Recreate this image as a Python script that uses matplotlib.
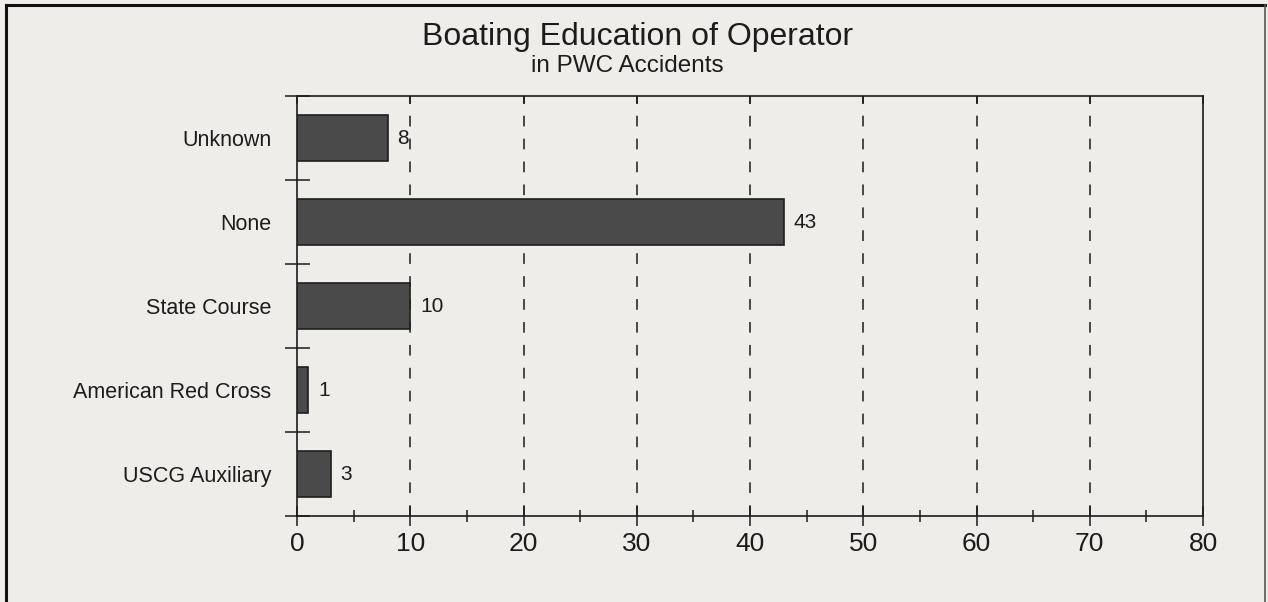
import matplotlib
matplotlib.use("Agg")
import matplotlib.pyplot as plt
from matplotlib.ticker import MultipleLocator, FixedLocator, NullFormatter
from matplotlib.lines import Line2D

categories = ["Unknown", "None", "State Course", "American Red Cross", "USCG Auxiliary"]
values = [8, 43, 10, 1, 3]
x_ticks = [0, 10, 20, 30, 40, 50, 60, 70, 80]
title = "Boating Education of Operator"
subtitle = "in PWC Accidents"

plt.rcParams['font.family'] = ['Liberation Sans', 'DejaVu Sans']
bg = "#eeede9"
ink = "#1c1c1c"
bar_color = "#4a4a4a"

fig = plt.figure(figsize=(12.68, 6.02), dpi=100, facecolor=bg)
ax = fig.add_axes([297/1268, 1-516/602, (1203-297)/1268, (516-96)/602])
ax.set_facecolor(bg)

ypos = list(range(len(categories)))
ax.barh(ypos, values, height=0.54, color=bar_color, edgecolor="#1e1e1e", linewidth=1.2, zorder=3)
for y, v in zip(ypos, values):
    ax.annotate(str(v), (v, y), xytext=(7, 0), textcoords="offset points",
                va="center", ha="left", fontsize=15, color=ink)

ax.set_xlim(0, 80)
ax.set_ylim(len(categories)-0.5, -0.5)

# vertical dashed grid
for x in x_ticks[1:-1]:
    ax.axvline(x, color=ink, linestyle=(0, (7, 8)), linewidth=1.1, zorder=1)

ax.xaxis.set_major_locator(FixedLocator(x_ticks))
ax.xaxis.set_minor_locator(MultipleLocator(5))
ax.set_xticklabels([str(t) for t in x_ticks])
ax.tick_params(axis='x', which='major', direction='inout', length=15, width=1.1,
               labelsize=19, colors=ink, pad=4, top=False)
ax.tick_params(axis='x', which='minor', direction='inout', length=9, width=1.1,
               colors=ink, top=False)

# category labels at centres, tick marks at boundaries
ax.set_yticks(ypos)
ax.set_yticklabels(categories)
ax.tick_params(axis='y', which='major', length=0, labelsize=15.5, colors=ink, pad=18.5)
ax.yaxis.set_minor_locator(FixedLocator([i - 0.5 for i in range(len(categories)+1)]))
ax.yaxis.set_minor_formatter(NullFormatter())
ax.tick_params(axis='y', which='minor', direction='inout', length=18, width=1.1, colors=ink)

for s in ax.spines.values():
    s.set_color(ink)
    s.set_linewidth(1.2)

# top ticks pointing inward
ax2 = ax.secondary_xaxis('top')
ax2.xaxis.set_major_locator(FixedLocator(x_ticks))
ax2.tick_params(direction='in', length=6, width=1.1, colors=ink, labeltop=False)
ax2.spines['top'].set_visible(False)

fig.text(638/1268, 1-37/602, title, ha="center", va="center", fontsize=23, color=ink)
fig.text(627/1268, 1-66/602, subtitle, ha="center", va="center", fontsize=17.5, color=ink)

# outer frame
fig.add_artist(Line2D([6/1268, 6/1268], [0, 1-5/602], transform=fig.transFigure, color="#111", lw=2.2))
fig.add_artist(Line2D([6/1268, 1265/1268], [1-5/602, 1-5/602], transform=fig.transFigure, color="#111", lw=2.2))
fig.add_artist(Line2D([1265/1268, 1265/1268], [0, 1-5/602], transform=fig.transFigure, color="#555", lw=1.2))

fig.savefig("out.png", dpi=100, facecolor=bg)
